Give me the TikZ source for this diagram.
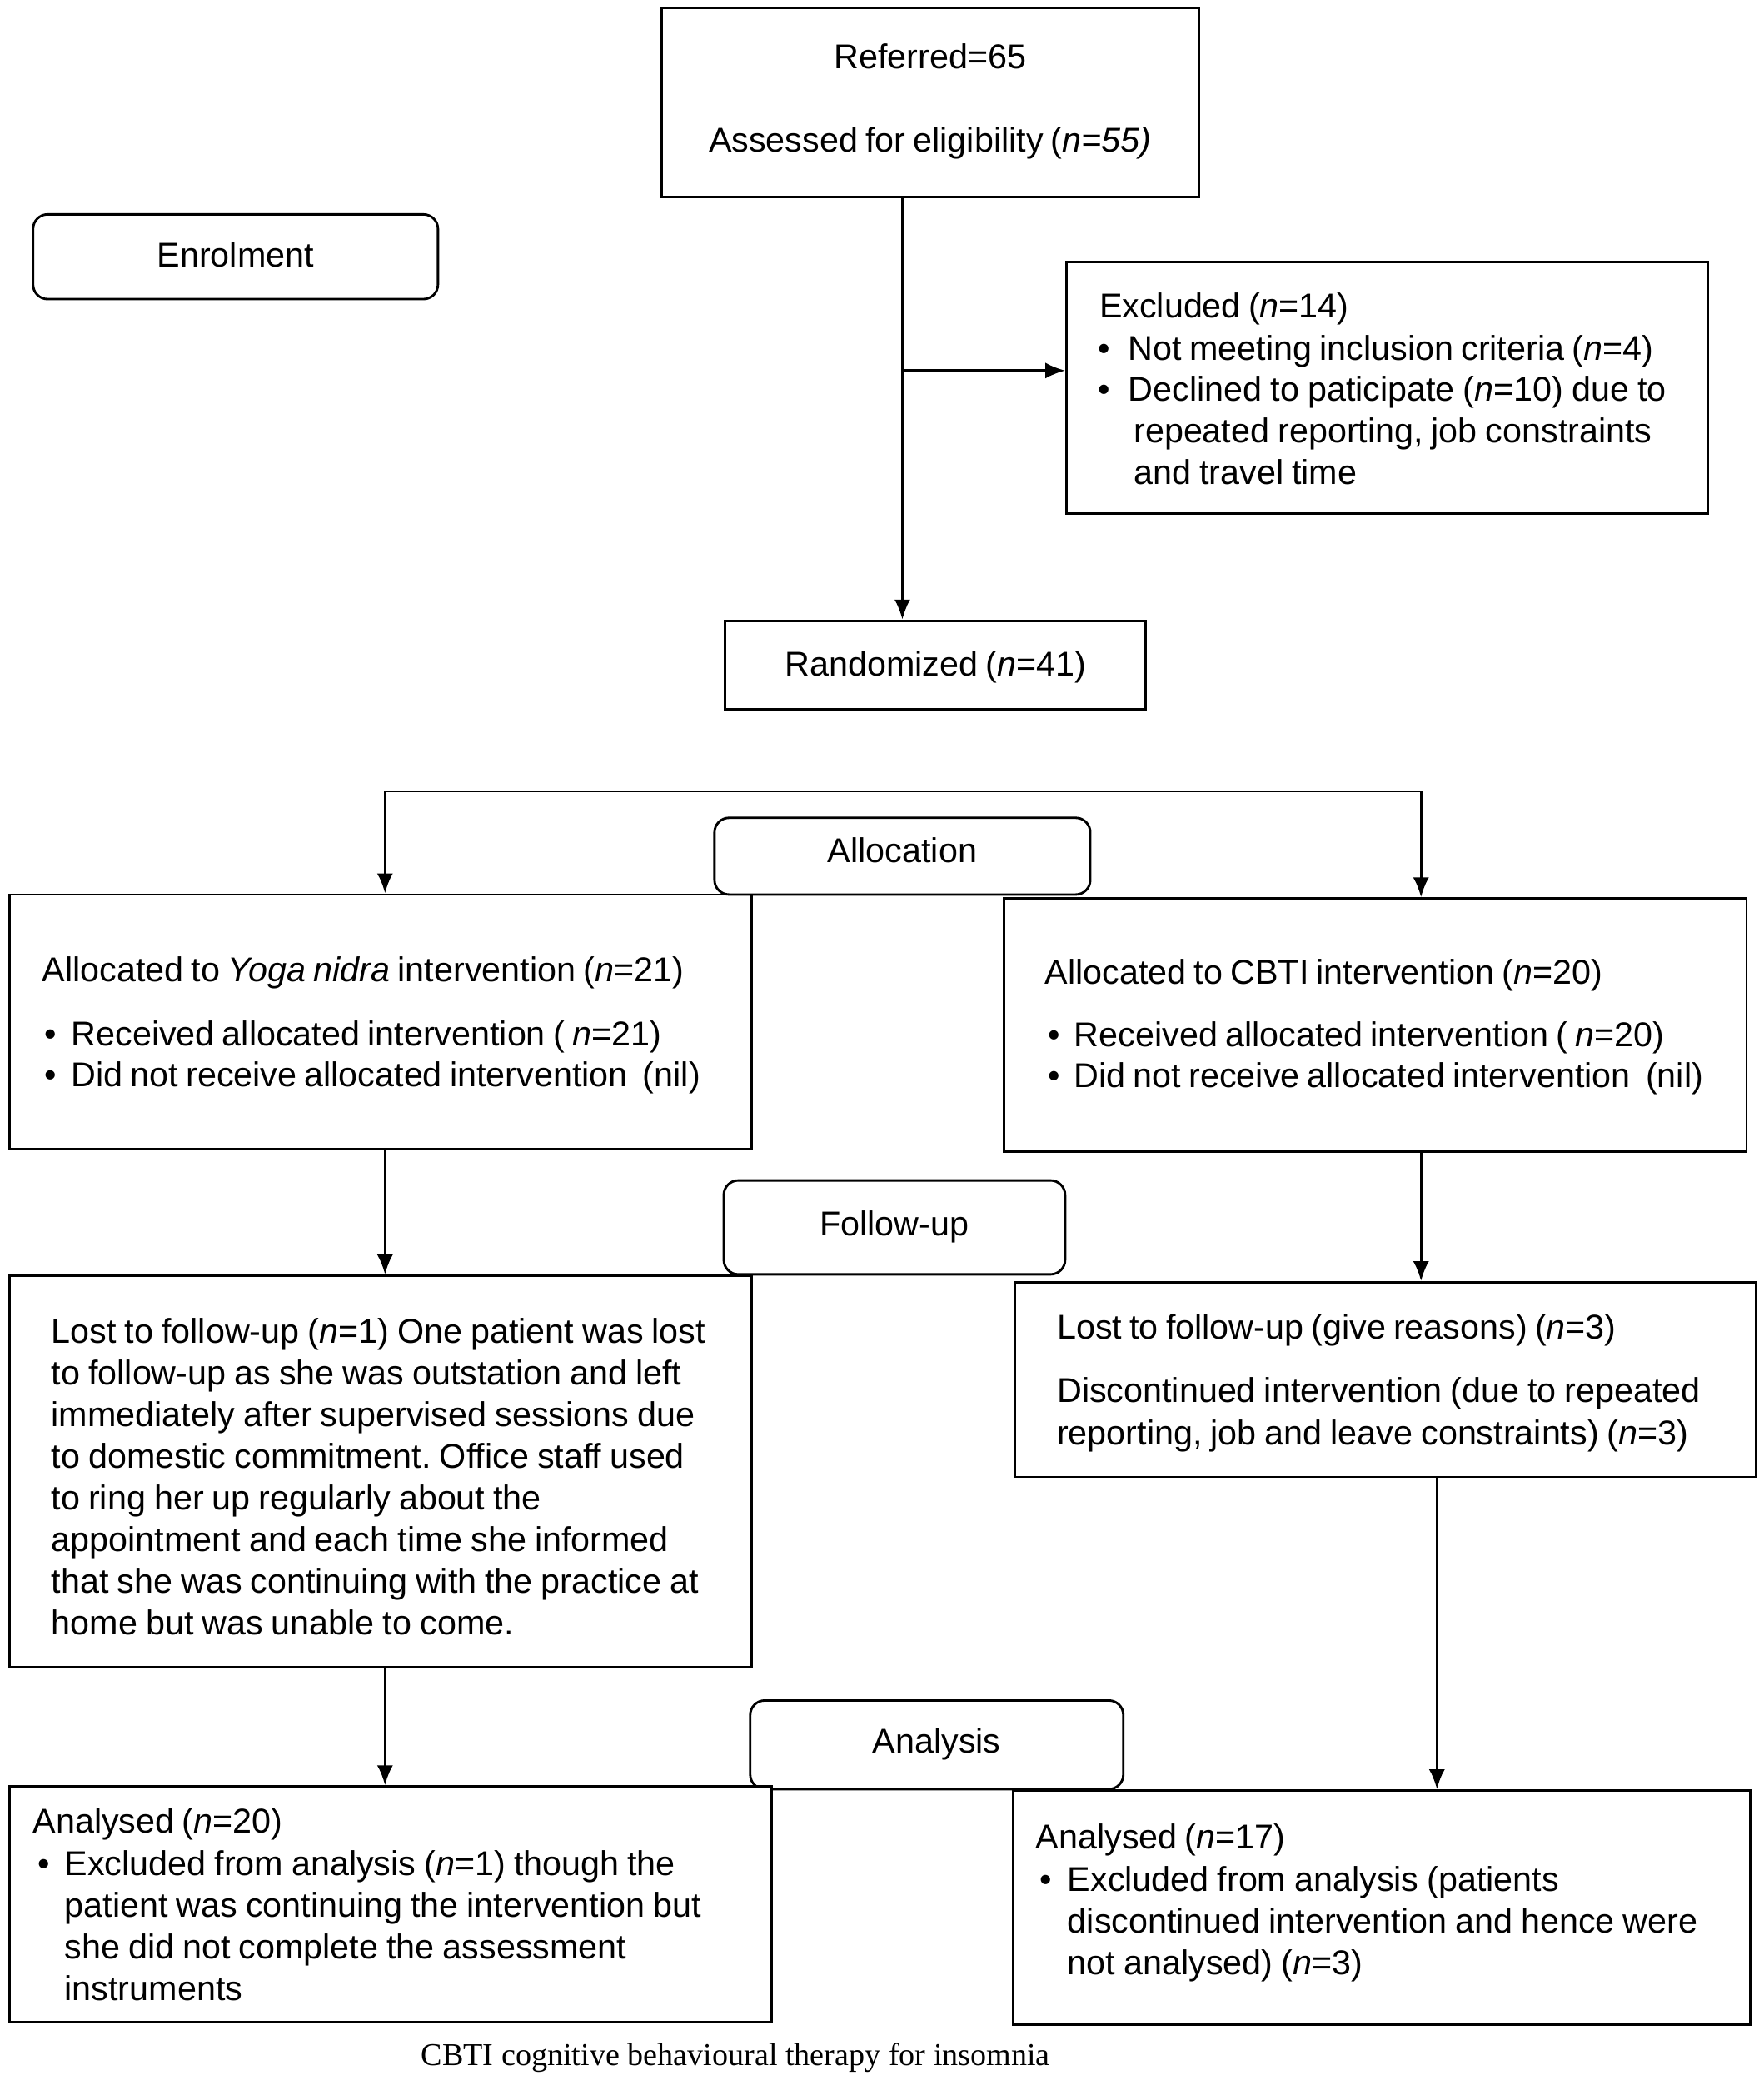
\documentclass[tikz,border=0pt]{standalone}
\usepackage{fontspec}
\setmainfont{Liberation Sans}[WordSpace=0.8]
\newfontfamily\capfont{Liberation Serif}
\usetikzlibrary{arrows.meta,fit}
\newcommand{\fsz}{\fontsize{13}{15.75}\selectfont}
\newcommand{\ts}{\spaceskip=3.15pt plus 1pt minus 0.5pt\xspaceskip=3.15pt plus 1pt\relax}
\begin{document}
\begin{tikzpicture}[x=0.5pt,y=-0.5pt,
  line width=0.9pt,
  box/.style={draw=black, fill=white, inner sep=0pt, line width=0.9pt},
  rbox/.style={box, rounded corners=5.5pt},
  lbl/.style={inner sep=0pt, anchor=base, font=\fsz},
  txt/.style={inner sep=0pt, anchor=base west, font=\fsz, align=left},
  mtxt/.style={txt, text width=260pt},
  arr/.style={-{Latex[length=7.5pt,width=6pt]}, line width=0.9pt},
  ln/.style={line width=0.9pt}]
\useasboundingbox (0,0) rectangle (1333,1568);

% boxes
\node[box, fit={(500,6)(906,149)}] (ref) {};
\node[rbox, fit={(25,162)(331,226)}] (enrol) {};
\node[box, fit={(806,198)(1291,388)}] (excl) {};
\node[box, fit={(548,469)(866,536)}] (rand) {};
\node[box, fit={(7,676)(568,868)}] (yoga) {};
\node[box, fit={(759,679)(1320,870)}] (cbti) {};
\node[rbox, fit={(540,618)(824,676)}] (alloc) {};
\node[box, fit={(7,964)(568,1260)}] (lostL) {};
\node[box, fit={(767,969)(1327,1116)}] (lostR) {};
\node[rbox, fit={(547,892)(805,963)}] (fu) {};
\node[rbox, fit={(567,1285)(849,1352)}] (ana) {};
\node[box, fit={(7,1350)(583,1528)}] (anaL) {};
\node[box, fit={(766,1353)(1323,1530)}] (anaR) {};

% texts
\node[lbl] (t1) at (703,52) {Referred=65};
\node[lbl] (t2) at (703,115) {Assessed for eligibility (\textit{n=55)}};
\node[lbl] (t3) at (178,202) {Enrolment};

\node[txt] (e0) at (830,240) {Excluded (\textit{n}=14)};
\node[txt] (eb1) at (829,272) {\textbullet};
\node[txt] (e1) at (852,272) {Not meeting inclusion criteria (\textit{n}=4)};
\node[txt] (eb2) at (829,303) {\textbullet};
\node[mtxt] (e2) at (852,303) {\ts Declined to paticipate (\textit{n}=10) due to\\
\hspace*{2pt}repeated reporting, job constraints\\
\hspace*{2pt}and travel time};

\node[lbl] (t4) at (707,511) {Randomized (\textit{n}=41)};
\node[lbl] (t5) at (682,652) {Allocation};

\node[txt] (y0) at (31,742) {Allocated to \textit{Yoga nidra} intervention (\textit{n}=21)};
\node[txt] (yb1) at (33,790) {\textbullet};
\node[txt] (y1) at (53,790) {Received allocated intervention ( \textit{n}=21)};
\node[txt] (yb2) at (33,821) {\textbullet};
\node[txt] (y2) at (53,821) {Did not receive allocated intervention\ \ (nil)};

\node[txt] (c0) at (789,744) {Allocated to CBTI intervention (\textit{n}=20)};
\node[txt] (cb1) at (791,791) {\textbullet};
\node[txt] (c1) at (811,791) {Received allocated intervention ( \textit{n}=20)};
\node[txt] (cb2) at (791,822) {\textbullet};
\node[txt] (c2) at (811,822) {Did not receive allocated intervention\ \ (nil)};

\node[lbl] (t6) at (676,934) {Follow-up};

\node[mtxt] (l0) at (38,1015) {\ts Lost to follow-up (\textit{n}=1) One patient was lost\\
to follow-up as she was outstation and left\\
immediately after supervised sessions due\\
to domestic commitment. Office staff used\\
to ring her up regularly about the\\
appointment and each time she informed\\
that she was continuing with the practice at\\
home but was unable to come.};

\node[txt] (r0) at (798,1012) {Lost to follow-up (give reasons) (\textit{n}=3)};
\node[mtxt] (r1) at (798,1060) {\ts Discontinued intervention (due to repeated\\
reporting, job and leave constraints) (\textit{n}=3)};

\node[lbl] (t7) at (708,1325) {Analysis};

\node[txt] (a0) at (24,1385) {Analysed (\textit{n}=20)};
\node[txt] (ab1) at (28,1417) {\textbullet};
\node[mtxt] (a1) at (48,1417) {\ts Excluded from analysis (\textit{n}=1) though the\\
patient was continuing the intervention but\\
she did not complete the assessment\\
instruments};

\node[txt] (b0) at (782,1397) {Analysed (\textit{n}=17)};
\node[txt] (bb1) at (785,1429) {\textbullet};
\node[mtxt] (b1) at (806,1429) {\ts Excluded from analysis (patients\\
discontinued intervention and hence were\\
not analysed) (\textit{n}=3)};

\node[inner sep=0pt, anchor=base, font=\capfont\fontsize{12}{14}\selectfont] (cap) at (556,1561) {CBTI cognitive behavioural therapy for insomnia};

% connectors
\coordinate (trunk) at (682,280);
\coordinate (sl) at (291,598);
\coordinate (sr) at (1074,598);
\coordinate (rr) at (1086,1200);
\draw[ln] (trunk |- ref.south) -- (trunk);
\draw[arr] (trunk) -- (trunk |- rand.north);
\draw[arr] (trunk) -- (trunk -| excl.west);
\draw[ln] (sl) -- (sr);
\draw[arr] (sl) -- (sl |- yoga.north);
\draw[arr] (sr) -- (sr |- cbti.north);
\draw[arr] (yoga.south -| sl) -- (lostL.north -| sl);
\draw[arr] (cbti.south -| sr) -- (lostR.north -| sr);
\draw[arr] (lostL.south -| sl) -- (anaL.north -| sl);
\draw[arr] (lostR.south -| rr) -- (anaR.north -| rr);
\end{tikzpicture}
\end{document}
